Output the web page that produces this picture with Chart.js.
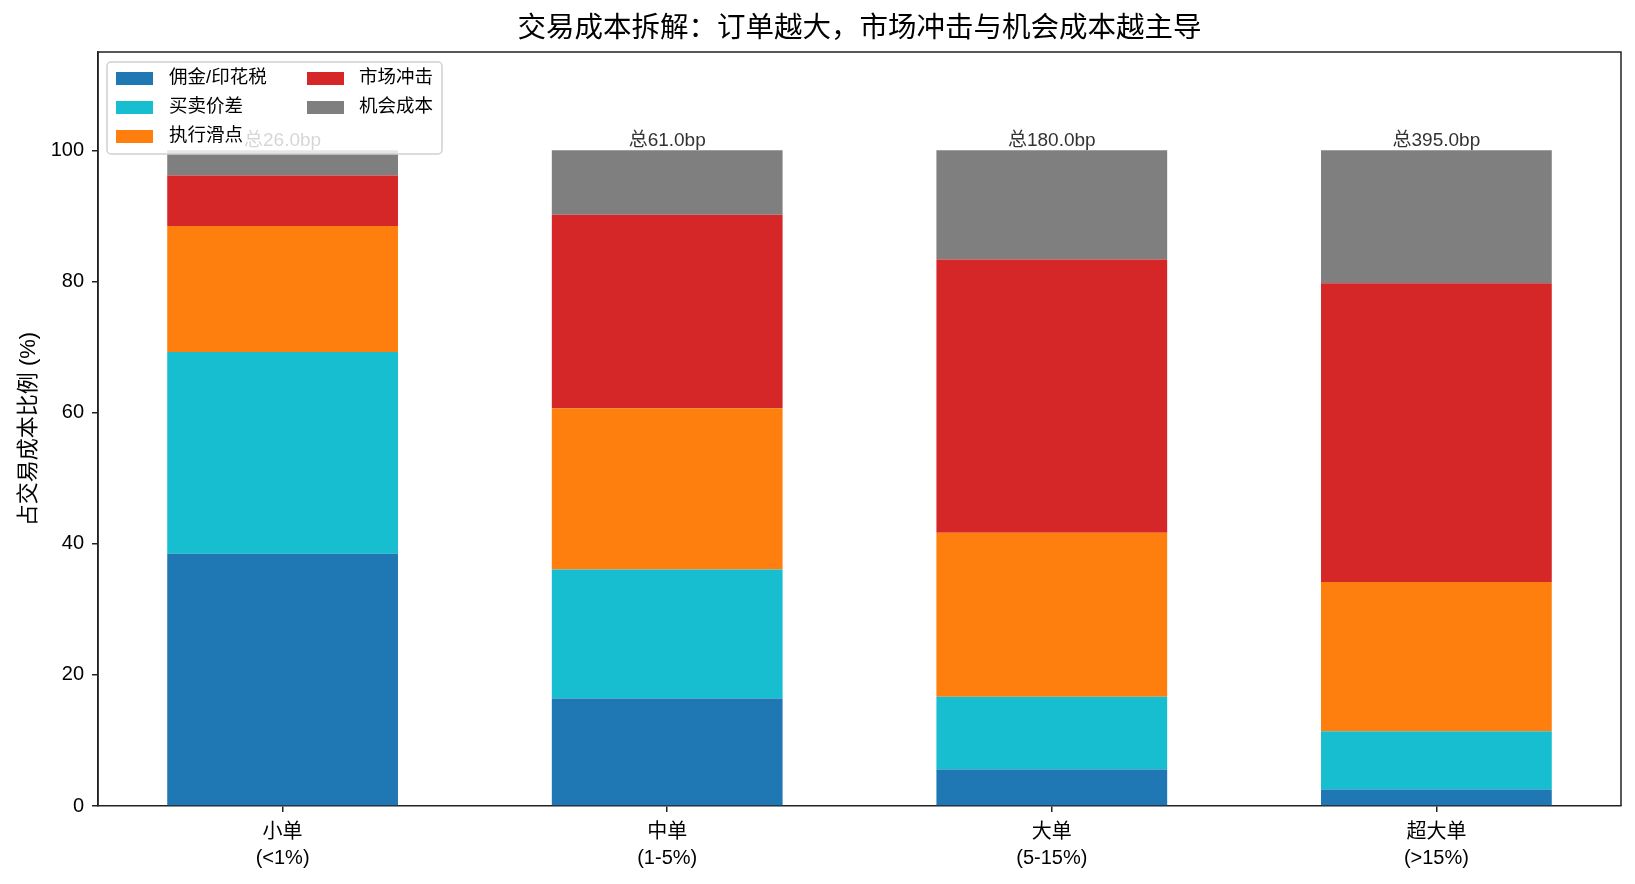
<!DOCTYPE html>
<html>
<head>
<meta charset="utf-8">
<script src="https://cdn.jsdelivr.net/npm/chart.js@4"></script>
<style>
  html, body { margin: 0; padding: 0; background: #fff; }
  #wrap { width: 1635px; height: 884px; }
</style>
</head>
<body>
<div id="wrap"><canvas id="myChart" width="1635" height="884"></canvas></div>
<script>
// order size buckets
const categories = [['小单', '(<1%)'], ['中单', '(1-5%)'], ['大单', '(5-15%)'], ['超大单', '(>15%)']];

// cost components in bp
const commission  = [10, 10, 10, 10];
const spread      = [8, 12, 20, 35];
const slippage    = [5, 15, 45, 90];
const impact      = [2, 18, 75, 180];
const opportunity = [1, 6, 30, 80];

const seriesNames  = ['佣金/印花税', '买卖价差', '执行滑点', '市场冲击', '机会成本'];
const seriesColors = ['#1f77b4', '#17becf', '#ff7f0e', '#d62728', '#7f7f7f'];
const yTicks = [0, 20, 40, 60, 80, 100];

const FONT = '"Liberation Sans", Arial, "Noto Sans CJK SC", sans-serif';
const series = [commission, spread, slippage, impact, opportunity];
const totals = categories.map((c, i) => series.reduce((s, arr) => s + arr[i], 0));

const datasets = series.map((arr, k) => ({
  label: seriesNames[k],
  data: arr.map((v, i) => ({ x: i, y: v / totals[i] * 100 })),
  backgroundColor: seriesColors[k],
  borderWidth: 0,
  barPercentage: 0.6,
  categoryPercentage: 1.0
}));

// total labels above each bar
const totalLabels = {
  id: 'totalLabels',
  afterDatasetsDraw(chart) {
    const ctx = chart.ctx;
    const xs = chart.scales.x, ys = chart.scales.y;
    ctx.save();
    ctx.font = '19px ' + FONT;
    ctx.fillStyle = '#333';
    ctx.textAlign = 'center';
    ctx.textBaseline = 'alphabetic';
    totals.forEach((t, i) => {
      ctx.fillText('总' + t.toFixed(1) + 'bp', xs.getPixelForValue(i), ys.getPixelForValue(100) - 4);
    });
    ctx.restore();
  }
};

// frame, title, y label and legend
const decorations = {
  id: 'decorations',
  afterDraw(chart) {
    const ctx = chart.ctx;
    const a = chart.chartArea;
    ctx.save();
    ctx.strokeStyle = '#222';
    ctx.lineWidth = 1.5;
    ctx.beginPath();
    ctx.moveTo(a.left, a.bottom);
    ctx.lineTo(a.left, a.top);
    ctx.lineTo(a.right, a.top);
    ctx.lineTo(a.right, a.bottom);
    ctx.stroke();

    ctx.fillStyle = '#000';
    ctx.font = '28.5px ' + FONT;
    ctx.textAlign = 'center';
    ctx.textBaseline = 'middle';
    ctx.fillText('交易成本拆解：订单越大，市场冲击与机会成本越主导', (a.left + a.right) / 2, 29);

    ctx.save();
    ctx.translate(29, (a.top + a.bottom) / 2);
    ctx.rotate(-Math.PI / 2);
    ctx.font = '22px ' + FONT;
    ctx.fillText('占交易成本比例 (%)', 0, 0);
    ctx.restore();

    // legend box
    const bx = 107, by = 62, bw = 335, bh = 92, r = 4;
    ctx.beginPath();
    ctx.moveTo(bx + r, by);
    ctx.arcTo(bx + bw, by, bx + bw, by + bh, r);
    ctx.arcTo(bx + bw, by + bh, bx, by + bh, r);
    ctx.arcTo(bx, by + bh, bx, by, r);
    ctx.arcTo(bx, by, bx + bw, by, r);
    ctx.closePath();
    ctx.fillStyle = 'rgba(255,255,255,0.8)';
    ctx.fill();
    ctx.strokeStyle = '#d0d0d0';
    ctx.lineWidth = 1.5;
    ctx.stroke();

    const cols = [{ sx: 116, tx: 169 }, { sx: 307, tx: 359 }];
    const rows = [78, 107, 136];
    ctx.font = '18.5px ' + FONT;
    ctx.textAlign = 'left';
    ctx.textBaseline = 'middle';
    seriesNames.forEach((name, k) => {
      const c = cols[Math.floor(k / 3)], y = rows[k % 3];
      ctx.fillStyle = seriesColors[k];
      ctx.fillRect(c.sx, y - 6, 37, 13);
      ctx.fillStyle = '#000';
      ctx.fillText(name, c.tx, y);
    });
    ctx.restore();
  }
};

new Chart(document.getElementById('myChart'), {
  type: 'bar',
  data: { datasets: datasets },
  options: {
    responsive: false,
    animation: false,
    layout: { padding: { top: 52, right: 14, left: 0, bottom: 0 } },
    plugins: {
      legend: { display: false },
      tooltip: { enabled: false },
      title: { display: false }
    },
    scales: {
      x: {
        type: 'linear',
        stacked: true,
        offset: false,
        min: -0.48,
        max: 3.48,
        afterBuildTicks: s => { s.ticks = categories.map((c, i) => ({ value: i })); },
        afterFit: s => { s.height = 78; },
        grid: { offset: false, drawOnChartArea: false, drawTicks: true, tickLength: 6, color: '#222', lineWidth: 1.5 },
        border: { display: true, color: '#222', width: 1.5 },
        ticks: {
          padding: 8,
          color: '#000',
          font: { family: FONT, size: 20, lineHeight: 1.27 },
          maxRotation: 0,
          autoSkip: false,
          callback: v => categories[v]
        }
      },
      y: {
        stacked: true,
        min: 0,
        max: 115,
        afterBuildTicks: s => { s.ticks = yTicks.map(v => ({ value: v })); },
        afterFit: s => { s.width = 98; },
        grid: { drawOnChartArea: false, drawTicks: true, tickLength: 6, color: '#222', lineWidth: 1.5 },
        border: { display: true, color: '#222', width: 1.5 },
        ticks: {
          padding: 8,
          color: '#000',
          font: { family: FONT, size: 20 }
        }
      }
    }
  },
  plugins: [totalLabels, decorations]
});
</script>
</body>
</html>
